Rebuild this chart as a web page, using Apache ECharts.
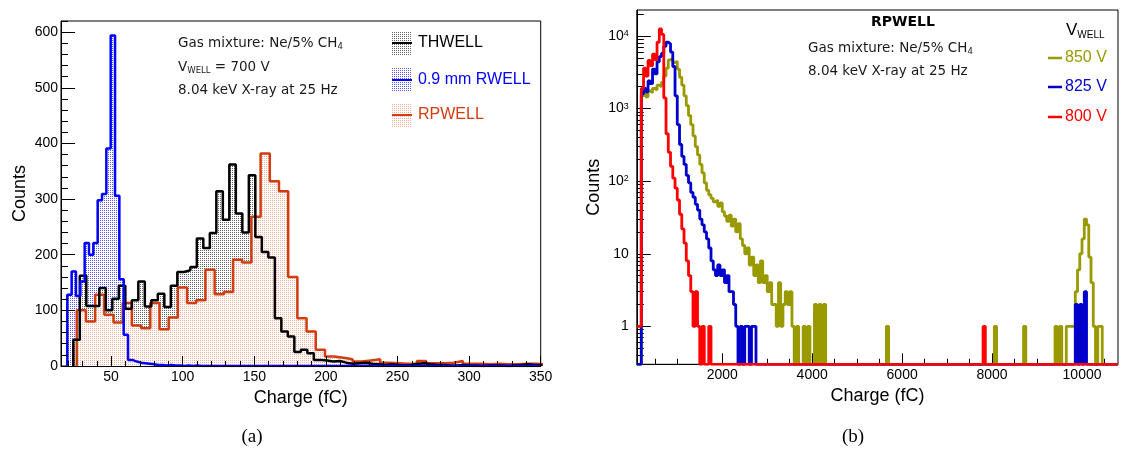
<!DOCTYPE html>
<html>
<head>
<meta charset="utf-8">
<script src="https://cdn.jsdelivr.net/npm/echarts@6/dist/echarts.min.js"></script>
<style>
html,body{margin:0;padding:0;background:#fff;}
#main{width:1123px;height:449px;}
</style>
</head>
<body>
<div id="main"></div>
<script>
// ---- panel (a): charge spectra at 700 V, each histogram has its own binning (fC)
var thwellStart = 23.6, thwellWidth = 4.54;
var thwellCounts = [47, 162, 108, 108, 140, 100, 121, 144, 103, 118, 152, 107, 118, 130, 106, 144,
  169, 172, 178, 229, 212, 239, 314, 263, 362, 274, 240, 343, 232, 205, 195, 86, 62, 53, 25, 29,
  23, 11, 10, 8, 9, 6, 4, 5, 6, 4, 3, 2, 3, 2, 1, 2, 4, 5, 3, 2, 2, 1, 1, 2, 1, 1, 0, 1, 1, 1,
  0, 1, 2, 3, 2, 2];
var rwellStart = 19.4, rwellWidth = 3.03;
var rwellCounts = [128, 170, 126, 152, 221, 200, 221, 298, 309, 391, 594, 306, 156, 56, 11, 8, 6,
  5, 4, 3, 2, 2, 1, 2, 1, 1, 0, 1, 0, 1, 0, 0];
var rpwellStart = 26.0, rpwellWidth = 6.42;
var rpwellCounts = [100, 80, 128, 92, 78, 113, 73, 68, 113, 66, 87, 141, 113, 118, 173, 129, 133,
  191, 186, 268, 382, 332, 314, 160, 86, 62, 29, 17, 15, 12, 8, 10, 12, 6, 5, 4, 4, 9, 5, 5, 6, 9,
  4, 4, 3, 4, 3, 3, 4, 4, 3, 3, 3];

// ---- panel (b): RPWELL at three voltages, 50 fC bins starting at 100 fC
var binStartB = 100, binWidthB = 50;
var v850 = [0, 0, 1500, 1600, 1450, 1750, 1650, 1900, 1800, 2100, 2000, 2300, 2800, 3600, 4700,
  4900, 4300, 4500, 3500, 2700, 2100, 1500, 1100, 800, 600, 420, 300, 230, 170, 130, 95, 75, 65,
  58, 52, 55, 45, 50, 38, 33, 28, 34, 24, 30, 20, 26, 16, 13, 10, 12, 7, 9, 5, 7, 4, 8, 4, 5, 3,
  4, 2, 2, 1, 4, 1, 2, 3, 2, 3, 1, 0, 1, 0, 0, 1, 0, 1, 0, 0, 2, 0, 2, 0, 2, 0];
var v825 = [0, 0, 1600, 1900, 1700, 2400, 2200, 3500, 3000, 4400, 5200, 5800, 7200, 8200, 7800,
  6000, 3800, 1500, 600, 320, 220, 170, 120, 95, 70, 60, 48, 40, 30, 25, 20, 16, 12, 8, 6, 5, 7,
  5, 6, 4, 5, 3, 3, 2, 1, 0, 1, 0, 1, 1, 0, 1, 1];
var v800 = [1, 1, 1900, 3600, 2800, 4600, 3900, 5600, 4700, 8200, 12500, 10500, 1400, 450, 250,
  160, 110, 80, 55, 35, 22, 14, 8, 5, 3, 1, 3, 1, 0, 1, 0, 0, 1];
// isolated bins further out: [charge fC, counts]
var v850Far = [[5650, 1], [8050, 1], [8700, 1], [9400, 1], [9500, 1], [9650, 1], [9700, 1],
  [9750, 1], [9800, 1], [9850, 3], [9900, 6], [9950, 10], [10000, 16], [10050, 30], [10100, 25],
  [10150, 9], [10200, 4], [10250, 1], [10350, 1], [10400, 1]];
var v825Far = [[9850, 2], [9950, 2], [10050, 3]];
var v800Far = [[7800, 1]];

var xMinA = 15, xMaxA = 350, yMaxA = 620;
var xMinB = 100, xMaxB = 10800, yMinB = 0.3, yMaxB = 22800;

var cRP = '#d23c0f', cRW = '#0000ff', cTH = '#000000';
var c850 = '#999900', c825 = '#0000cc', c800 = '#ff0000';
var axisFont = 'Liberation Sans';
var noteFont = '"DejaVu Sans"';

function histPoints(start, width, counts, xEnd) {
  var pts = [[start, 0]];
  for (var i = 0; i < counts.length; i++) pts.push([start + i * width, counts[i]]);
  var end = start + counts.length * width;
  pts.push([end, 0]);
  if (xEnd > end) pts.push([xEnd, 0]);
  return pts;
}

function histPointsB(dense, far) {
  var n = Math.round((xMaxB - binStartB) / binWidthB);
  var counts = [];
  for (var i = 0; i < n; i++) counts.push(i < dense.length ? dense[i] : 0);
  far.forEach(function (f) { counts[Math.round((f[0] - binStartB) / binWidthB)] = f[1]; });
  var pts = [];
  for (i = 0; i < n; i++) pts.push([binStartB + i * binWidthB, counts[i] > 0 ? counts[i] : yMinB]);
  pts.push([xMaxB, yMinB]);
  return pts;
}

function dots(color) {
  var c = document.createElement('canvas');
  c.width = 2; c.height = 2;
  var g = c.getContext('2d');
  g.fillStyle = '#fff'; g.fillRect(0, 0, 2, 2);
  g.fillStyle = color; g.fillRect(0, 0, 1, 1);
  return c;
}
var patTH = { image: dots('#666'), repeat: 'repeat' };
var patRW = { image: dots('#5a5aff'), repeat: 'repeat' };
var patRP = { image: dots('#f4b09c'), repeat: 'repeat' };

// tick positions
var majXA = [50, 100, 150, 200, 250, 300, 350], minXA = [];
for (var v = 20; v <= 340; v += 10) if (v % 50) minXA.push(v);
var majYA = [0, 100, 200, 300, 400, 500, 600], minYA = [];
for (v = 20; v <= 620; v += 20) if (v % 100) minYA.push(v);
var majXB = [2000, 4000, 6000, 8000, 10000], minXB = [];
for (v = 500; v <= 10500; v += 500) if (v % 2000) minXB.push(v);
var majYB = [1, 10, 100, 1000, 10000], minYB = [];
for (var d = 0.1; d <= 10000; d *= 10) {
  for (var m = 2; m <= 9; m++) {
    var t = +(m * d).toPrecision(3);
    if (t > yMinB && t < yMaxB) minYB.push(t);
  }
}

var labelStyle = { fontSize: 14, color: '#000', fontFamily: axisFont };
var nameStyle = { fontSize: 18, color: '#000', fontFamily: axisFont };
var axLine = { show: true, lineStyle: { color: '#000', width: 1 } };

function xAx(grid, min, max, major, tickLen, extra) {
  var a = {
    gridIndex: grid, type: 'value', min: min, max: max, position: 'bottom', z: 5,
    axisLine: axLine, splitLine: { show: false },
    axisTick: { inside: true, length: tickLen, customValues: major, lineStyle: { color: '#000' } },
    axisLabel: Object.assign({ customValues: major, margin: 4, formatter: function (val) { return String(val); } }, labelStyle)
  };
  return Object.assign(a, extra || {});
}
function minorAx(grid, type, min, max, values, len, pos) {
  return {
    gridIndex: grid, type: type, min: min, max: max, position: pos, z: 5,
    axisLine: { show: false }, splitLine: { show: false }, axisLabel: { show: false },
    axisTick: { inside: true, length: len, customValues: values, lineStyle: { color: '#000' } }
  };
}

var supDigits = { 2: '2', 3: '3', 4: '4' };

var series = [
  // panel (a) fills
  { type: 'line', xAxisIndex: 0, yAxisIndex: 0, step: 'end', showSymbol: false, silent: true,
    data: histPoints(rwellStart, rwellWidth, rwellCounts, xMaxA), lineStyle: { width: 0 },
    areaStyle: { color: patRW, opacity: 1 } },
  { type: 'line', xAxisIndex: 0, yAxisIndex: 0, step: 'end', showSymbol: false, silent: true,
    data: histPoints(thwellStart, thwellWidth, thwellCounts, xMaxA), lineStyle: { width: 0 },
    areaStyle: { color: patTH, opacity: 1 } },
  { type: 'line', xAxisIndex: 0, yAxisIndex: 0, step: 'end', showSymbol: false, silent: true,
    data: histPoints(rpwellStart, rpwellWidth, rpwellCounts, xMaxA), lineStyle: { width: 0 },
    areaStyle: { color: patRP, opacity: 1 } },
  // panel (a) outlines
  { name: 'RPWELL', type: 'line', xAxisIndex: 0, yAxisIndex: 0, step: 'end', showSymbol: false,
    data: histPoints(rpwellStart, rpwellWidth, rpwellCounts, xMaxA), lineStyle: { color: cRP, width: 2.5 } },
  { name: 'THWELL', type: 'line', xAxisIndex: 0, yAxisIndex: 0, step: 'end', showSymbol: false,
    data: histPoints(thwellStart, thwellWidth, thwellCounts, xMaxA), lineStyle: { color: cTH, width: 2.5 } },
  { name: '0.9 mm RWELL', type: 'line', xAxisIndex: 0, yAxisIndex: 0, step: 'end', showSymbol: false,
    data: histPoints(rwellStart, rwellWidth, rwellCounts, xMaxA), lineStyle: { color: cRW, width: 2.5 } },
  // panel (b)
  { name: '850 V', type: 'line', xAxisIndex: 2, yAxisIndex: 2, step: 'end', showSymbol: false, z: 6,
    data: histPointsB(v850, v850Far), lineStyle: { color: c850, width: 2.8 } },
  { name: '825 V', type: 'line', xAxisIndex: 2, yAxisIndex: 2, step: 'end', showSymbol: false, z: 6,
    data: histPointsB(v825, v825Far), lineStyle: { color: c825, width: 2.8 } },
  { name: '800 V', type: 'line', xAxisIndex: 2, yAxisIndex: 2, step: 'end', showSymbol: false, z: 6,
    data: histPointsB(v800, v800Far), lineStyle: { color: c800, width: 2.8 } }
];

var noteSize = '13.5px ';
function note(x, y, text, rich, align) {
  return { type: 'text', x: x, y: y, z: 20, silent: true,
    style: { text: text, rich: rich, textAlign: align || 'left', textVerticalAlign: 'middle',
      font: noteSize + noteFont, fill: '#1a1a1a' } };
}
var richNote = {
  n: { font: noteSize + noteFont, fill: '#1a1a1a', lineHeight: 17 },
  s: { font: '8.5px ' + noteFont, fill: '#1a1a1a', lineHeight: 10, verticalAlign: 'bottom' }
};
var richBig = {
  n: { font: '17px ' + axisFont, fill: '#000', lineHeight: 20 },
  s: { font: '10px ' + axisFont, fill: '#000', lineHeight: 10, verticalAlign: 'bottom' }
};

function legBox(y, pat, col, label) {
  return [
    { type: 'rect', shape: { x: 392, y: y - 12, width: 20, height: 24 }, z: 20, silent: true,
      style: { fill: pat, stroke: null } },
    { type: 'line', shape: { x1: 392, y1: y, x2: 412, y2: y }, z: 21, silent: true,
      style: { stroke: col, lineWidth: 2 } },
    { type: 'text', x: 418, y: y, z: 21, silent: true,
      style: { text: label, font: '16px ' + axisFont, fill: col, textVerticalAlign: 'middle' } }
  ];
}
function legLine(y, col, label) {
  return [
    { type: 'line', shape: { x1: 1048, y1: y, x2: 1062, y2: y }, z: 21, silent: true,
      style: { stroke: col, lineWidth: 2.5 } },
    { type: 'text', x: 1065, y: y, z: 21, silent: true,
      style: { text: label, font: '16px ' + axisFont, fill: col, textVerticalAlign: 'middle' } }
  ];
}

var graphics = [
  note(178, 43, '{n|Gas mixture: Ne/5% CH}{s|4}', richNote),
  note(178, 67, '{n|V}{s|WELL}{n| = 700 V}', richNote),
  note(178, 90, '{n|8.04 keV X-ray at 25 Hz}', richNote),
  { type: 'text', x: 903, y: 22, z: 20, silent: true,
    style: { text: 'RPWELL', font: 'bold 14px ' + noteFont, fill: '#000',
      textAlign: 'center', textVerticalAlign: 'middle' } },
  note(808, 48, '{n|Gas mixture: Ne/5% CH}{s|4}', richNote),
  note(808, 71, '{n|8.04 keV X-ray at 25 Hz}', richNote),
  { type: 'text', x: 1066, y: 30, z: 20, silent: true,
    style: { text: '{n|V}{s|WELL}', rich: richBig, textVerticalAlign: 'middle' } },
  { type: 'text', x: 252, y: 437, z: 20, silent: true,
    style: { text: '(a)', font: '19px "Liberation Serif"', fill: '#000', textAlign: 'center', textVerticalAlign: 'middle' } },
  { type: 'text', x: 853, y: 437, z: 20, silent: true,
    style: { text: '(b)', font: '19px "Liberation Serif"', fill: '#000', textAlign: 'center', textVerticalAlign: 'middle' } }
]
  .concat(legBox(43, patTH, cTH, 'THWELL'))
  .concat(legBox(80, patRW, cRW, '0.9 mm RWELL'))
  .concat(legBox(115, patRP, cRP, 'RPWELL'))
  .concat(legLine(58, c850, '850 V'))
  .concat(legLine(87, c825, '825 V'))
  .concat(legLine(117, c800, '800 V'));

var option = {
  animation: false,
  backgroundColor: '#fff',
  grid: [
    { left: 61, top: 21, width: 479.7, height: 345, show: true, borderColor: '#000', borderWidth: 1, backgroundColor: 'transparent' },
    { left: 636.8, top: 10, width: 481.2, height: 354.3, show: true, borderColor: '#000', borderWidth: 1, backgroundColor: 'transparent' }
  ],
  xAxis: [
    xAx(0, xMinA, xMaxA, majXA, 10, { name: 'Charge (fC)', nameLocation: 'middle', nameGap: 18, nameTextStyle: nameStyle }),
    minorAx(0, 'value', xMinA, xMaxA, minXA, 5, 'bottom'),
    xAx(1, xMinB, xMaxB, majXB, 11, { name: 'Charge (fC)', nameLocation: 'middle', nameGap: 22, nameTextStyle: nameStyle }),
    minorAx(1, 'value', xMinB, xMaxB, minXB, 5.5, 'bottom')
  ],
  yAxis: [
    { gridIndex: 0, type: 'value', min: 0, max: yMaxA, position: 'left', z: 5,
      axisLine: axLine, splitLine: { show: false },
      axisTick: { inside: true, length: 14, customValues: majYA, lineStyle: { color: '#000' } },
      axisLabel: Object.assign({ customValues: majYA, margin: 3 }, labelStyle),
      name: 'Counts', nameLocation: 'middle', nameRotate: 90, nameGap: 32, nameTextStyle: nameStyle },
    minorAx(0, 'value', 0, yMaxA, minYA, 7, 'left'),
    { gridIndex: 1, type: 'log', logBase: 10, min: yMinB, max: yMaxB, position: 'left', z: 5,
      axisLine: axLine, splitLine: { show: false },
      axisTick: { inside: true, length: 14, customValues: majYB, lineStyle: { color: '#000' } },
      axisLabel: Object.assign({ customValues: majYB, margin: 8,
        formatter: function (val) {
          var e = Math.round(Math.log10(val));
          if (e < 2) return '{b|' + Math.round(val) + '}';
          return '{b|10}{sup|' + supDigits[e] + '}';
        },
        rich: { b: { fontSize: 14, fontFamily: axisFont, color: '#000' },
                sup: { fontSize: 9, fontFamily: axisFont, color: '#000', verticalAlign: 'top' } } }, labelStyle),
      name: 'Counts', nameLocation: 'middle', nameRotate: 90, nameGap: 34, nameTextStyle: nameStyle },
    minorAx(1, 'log', yMinB, yMaxB, minYB, 7, 'left')
  ],
  series: series,
  graphic: { elements: graphics }
};

var chart = echarts.init(document.getElementById('main'));
chart.setOption(option);
</script>
</body>
</html>
